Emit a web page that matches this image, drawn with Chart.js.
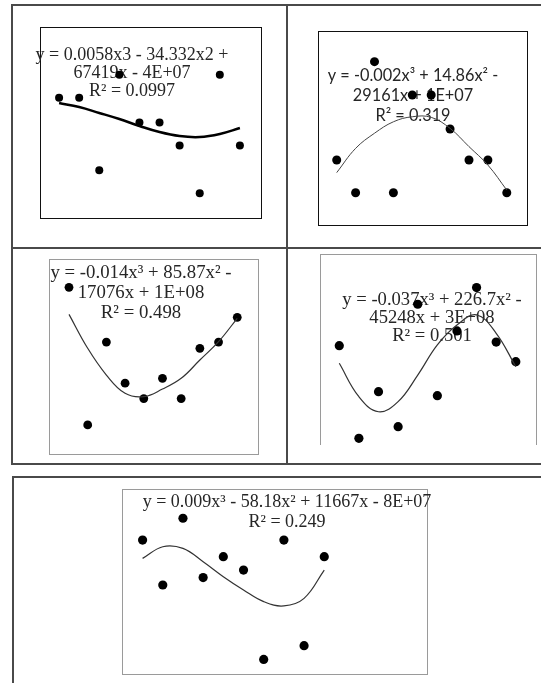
<!DOCTYPE html>
<html>
<head>
<meta charset="utf-8">
<script src="https://cdn.jsdelivr.net/npm/chart.js@4"></script>
<style>
    body { margin: 0; background: #fff; width: 541px; height: 683px; overflow: hidden; position: relative; }
    .rule { position: absolute; background: #4a4a4a; }
    .box { position: absolute; box-sizing: border-box; }
    canvas { position: absolute; }
</style>
</head>
<body>

<!-- table grid, top two rows -->
<div class="rule" style="left:12px; top:4px; width:529px; height:2px;"></div>
<div class="rule" style="left:11px; top:4px; width:2px; height:461px;"></div>
<div class="rule" style="left:286px; top:4px; width:2px; height:461px;"></div>
<div class="rule" style="left:12px; top:247px; width:529px; height:2px;"></div>
<div class="rule" style="left:12px; top:463px; width:529px; height:2px;"></div>
<!-- bottom row -->
<div class="rule" style="left:12px; top:476px; width:529px; height:2px;"></div>
<div class="rule" style="left:12px; top:476px; width:2px; height:207px;"></div>

<!-- plot frames -->
<div class="box" style="left:40px; top:27px; width:222px; height:192px; border:1px solid #111;"></div>
<div class="box" style="left:318px; top:31px; width:210px; height:195px; border:1px solid #111;"></div>
<div class="box" style="left:49px; top:259px; width:210px; height:196px; border:1px solid #9a9a9a;"></div>
<div class="box" style="left:320px; top:254px; width:217px; height:191px; border:1px solid #9a9a9a; border-bottom:none;"></div>
<div class="box" style="left:122px; top:489px; width:306px; height:186px; border:1px solid #9a9a9a;"></div>

<canvas id="c1" width="272" height="241" style="left:14px; top:6px;"></canvas>
<canvas id="c2" width="253" height="241" style="left:288px; top:6px;"></canvas>
<canvas id="c3" width="272" height="214" style="left:14px; top:249px;"></canvas>
<canvas id="c4" width="253" height="214" style="left:288px; top:249px;"></canvas>
<canvas id="c5" width="527" height="205" style="left:14px; top:478px;"></canvas>

<script>
// shared x positions (10 observations per plot)
const xIndex = [1, 2, 3, 4, 5, 6, 7, 8, 9, 10];

// plot 1
const p1Points = [63, 63, 25, 75, 50, 50, 38, 13, 75, 38];
const p1Trend = [60.2, 58.1, 55.0, 51.8, 48.2, 45.0, 42.9, 42.4, 44.0, 47.1];
const p1Label = ["y = 0.0058x3 - 34.332x2 +", "67419x - 4E+07", "R² = 0.0997"];

// plot 2
const p2Points = [33.5, 16.6, 84.2, 16.6, 67, 67, 49.5, 33.5, 33.5, 16.6];
const p2Trend = [27, 39.5, 47.3, 53.2, 55.8, 55.5, 49.8, 40.4, 30.9, 18];
const p2Label = ["y = -0.002x³ + 14.86x² -", "29161x + 1E+07", "R² = 0.319"];

// plot 3
const p3Points = [85.5, 14.9, 57.4, 36.3, 28.4, 38.8, 28.4, 54.2, 57.4, 70.1];
const p3Trend = [71.6, 54.2, 40.5, 31.1, 29.4, 33.3, 38.8, 48.2, 57.6, 69.6];
const p3Label = ["y = -0.014x³ + 85.87x² -", "17076x + 1E+08", "R² = 0.498"];

// plot 4
const p4Points = [52, 3.5, 27.9, 9.6, 73.7, 25.8, 59.7, 82.4, 53.9, 43.6];
const p4Trend = [42.8, 25.3, 17.4, 22.7, 36.6, 52.4, 62.8, 68.1, 58.5, 41];
const p4Label = ["y = -0.037x³ + 226.7x² -", "45248x + 3E+08", "R² = 0.501"];

// plot 5
const p5Points = [72.4, 48.1, 84.2, 52.1, 63.4, 56.2, 7.9, 72.4, 15.3, 63.4];
const p5Trend = [62.5, 68.8, 67.9, 60.7, 52.6, 45.4, 39.1, 36.8, 40.9, 56.2];
const p5Label = ["y = 0.009x³ - 58.18x² + 11667x - 8E+07", "R² = 0.249"];

// draws the trendline equation under the markers
const equationPlugin = {
    id: "equation",
    beforeDatasetsDraw(chart, args, opts) {
        const ctx = chart.ctx;
        ctx.save();
        ctx.font = opts.font;
        ctx.fillStyle = opts.color;
        ctx.textAlign = "center";
        ctx.textBaseline = "middle";
        opts.lines.forEach((t, i) => ctx.fillText(t, opts.x, opts.y + i * opts.lineHeight));
        ctx.restore();
    },
};

function toXY(values) {
    return values.map((v, i) => ({ x: xIndex[i], y: v }));
}

// cell = canvas rect on page, box = plot frame on page
function makePlot(id, cell, box, xRange, points, dotSize, trend, trendStyle, label) {
    new Chart(document.getElementById(id), {
        type: "scatter",
        data: {
            datasets: [
                {
                    data: toXY(trend),
                    showLine: true,
                    tension: 0.4,
                    borderColor: trendStyle.color,
                    borderWidth: trendStyle.width,
                    pointRadius: 0,
                    clip: false,
                },
                {
                    data: toXY(points),
                    backgroundColor: "#000",
                    borderColor: "#000",
                    pointRadius: dotSize,
                    borderWidth: 0,
                    clip: false,
                },
            ],
        },
        options: {
            responsive: false,
            animation: false,
            devicePixelRatio: 1,
            layout: {
                padding: {
                    left: box.x1 - cell.x,
                    top: box.y1 - cell.y,
                    right: cell.x + cell.w - box.x2,
                    bottom: cell.y + cell.h - box.y2,
                },
            },
            scales: {
                x: { type: "linear", display: false, min: xRange[0], max: xRange[1] },
                y: { type: "linear", display: false, min: 0, max: 100 },
            },
            plugins: {
                legend: { display: false },
                tooltip: { enabled: false },
                equation: {
                    lines: label.lines,
                    x: label.x - cell.x,
                    y: label.y - cell.y,
                    lineHeight: label.lineHeight,
                    font: label.font,
                    color: "#262626",
                },
            },
        },
        plugins: [equationPlugin],
    });
}

function serif(size) {
    return size + "px 'Liberation Serif', 'Times New Roman', serif";
}

makePlot("c1", { x: 14, y: 6, w: 272, h: 241 }, { x1: 40, y1: 27, x2: 261, y2: 218 },
    [0.05, 11.05], p1Points, 4, p1Trend, { color: "#000", width: 2.5 },
    { lines: p1Label, x: 132, y: 55, lineHeight: 18, font: serif(18) });

makePlot("c2", { x: 288, y: 6, w: 253, h: 241 }, { x1: 318, y1: 31, x2: 527, y2: 225 },
    [0.01, 11.07], p2Points, 4.5, p2Trend, { color: "#444", width: 1 },
    { lines: p2Label, x: 413, y: 76, lineHeight: 20, font: "16.3px Lato, 'Open Sans', sans-serif" });

makePlot("c3", { x: 14, y: 249, w: 272, h: 214 }, { x1: 49, y1: 259, x2: 258, y2: 454 },
    [-0.07, 11.11], p3Points, 4.4, p3Trend, { color: "#333", width: 1.2 },
    { lines: p3Label, x: 141, y: 273, lineHeight: 20, font: serif(18.8) });

makePlot("c4", { x: 288, y: 249, w: 253, h: 214 }, { x1: 320, y1: 254, x2: 537, y2: 445 },
    [0.017, 11.05], p4Points, 4.6, p4Trend, { color: "#333", width: 1.2 },
    { lines: p4Label, x: 432, y: 300, lineHeight: 18, font: serif(18.6) });

makePlot("c5", { x: 14, y: 478, w: 527, h: 205 }, { x1: 122, y1: 489, x2: 427, y2: 674 },
    [-0.02, 15.09], p5Points, 4.6, p5Trend, { color: "#333", width: 1.2 },
    { lines: p5Label, x: 287, y: 502, lineHeight: 20, font: serif(18) });
</script>
</body>
</html>
